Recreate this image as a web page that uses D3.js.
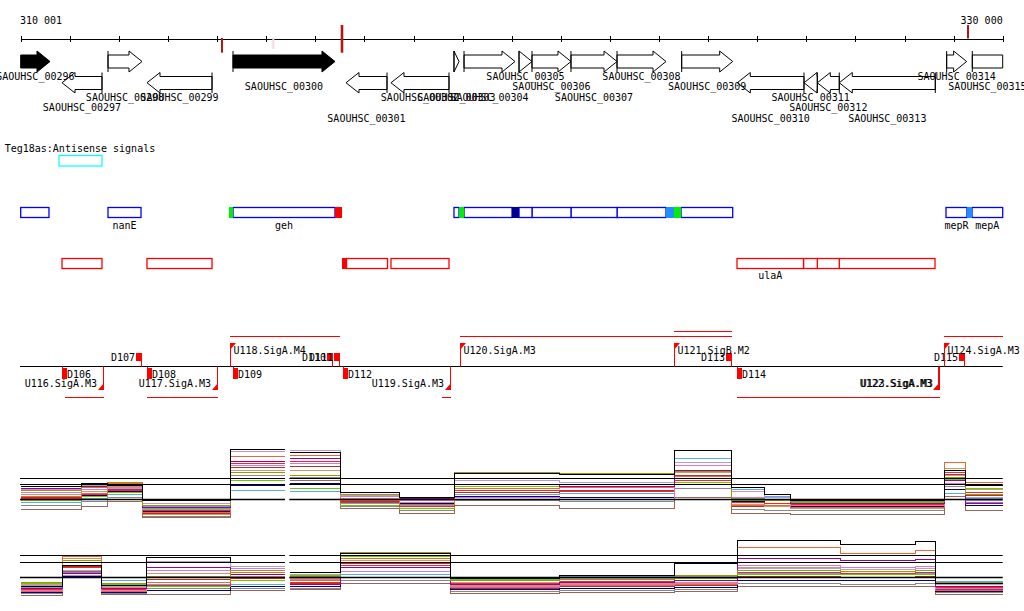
<!DOCTYPE html>
<html><head><meta charset="utf-8">
<script src="https://cdn.jsdelivr.net/npm/d3@7"></script>
<style>
body{margin:0;background:#fff;}
svg text{font-family:"DejaVu Sans Mono","Liberation Mono",monospace;font-size:10px;fill:#000;}
</style></head><body>
<svg id="c" width="1024" height="611"></svg>
<script>
// ================= DATA =================
const viewStart = 310001, viewEnd = 330732;
const rulerLabels = [310001, 330000];
const markerPos  = [314251, 315334, 316784, 330000];
const markerKind = ["below", "faint", "both", "above"];

const geneNames  = ["SAOUHSC_00296","SAOUHSC_00297","SAOUHSC_00298","SAOUHSC_00299","SAOUHSC_00300","SAOUHSC_00301","SAOUHSC_00302","SAOUHSC_00303","SAOUHSC_00304","SAOUHSC_00305","SAOUHSC_00306","SAOUHSC_00307","SAOUHSC_00308","SAOUHSC_00309","SAOUHSC_00310","SAOUHSC_00311","SAOUHSC_00312","SAOUHSC_00313","SAOUHSC_00314","SAOUHSC_00315"];
const geneStart  = [309800,310873,311844,312667,314483,316868,317818,319148,319360,320521,320795,321618,322590,323955,325129,326537,326818,327282,329549,330090];
const geneEnd    = [310620,311717,312562,314040,316636,317734,319043,319254,320436,320795,321618,322590,323624,325032,326537,326818,327282,329309,329971,331000];
const geneStrand = ["+","-","+","-","+","-","-","+","+","+","+","+","+","+","-","-","-","-","+","+"];
const geneSolid  = [true,false,false,false,true,false,false,false,false,false,false,false,false,false,false,false,false,false,false,false];
const geneLane   = [0,3,2,2,1,4,2,2,2,0,1,2,0,1,4,2,3,4,0,1];

const trackTitle = "Teg18as:Antisense signals";
const antisenseStart = [310810];
const antisenseEnd   = [311717];

const blueStart = [310001,311844,314398,314483,316636,319148,319254,319360,320373,320521,320795,321618,322590,323624,323793,323941,329535,329978,330084];
const blueEnd   = [310598,312541,314483,316636,316784,319254,319360,320373,320521,320795,321618,322590,323624,323793,323941,325032,329978,330084,330732];
const blueFill  = ["none","none","green","none","red","none","green","none","navy","none","none","none","none","sky","green","none","none","sky","none"];
const blueLabel = ["","nanE","","geh","","","","","","","","","","","","","mepR","","mepA"];

const redStart = [310873,312667,316784,316880,317818,325123,326527,326818,327282];
const redEnd   = [311717,314040,316880,317745,319043,326527,326818,327282,329303];
const redFill  = ["none","none","red","none","none","none","none","none","none"];
const redLabel = ["","","","","","ulaA","","",""];

const termNames  = ["D106","D107","D108","D109","D110","D111","D112","D113","D114","D115"];
const termPos    = [310873,312562,312667,314483,316594,316742,316805,325017,325123,329930];
const termStrand = ["-","+","-","-","+","+","-","+","-","+"];

const promNames     = ["U116.SigA.M3","U117.SigA.M3","U118.SigA.M4","U119.SigA.M3","U120.SigA.M3","U121.SigB.M2","U122.SigA.M3","U123.SigA.M3","U124.SigA.M3"];
const promPos       = [311760,314166,314420,319085,319275,323793,329381,329400,329493];
const promStrand    = ["-","-","+","-","+","+","-","-","+"];
const promRegionEnd = [310936,312667,316742,318895,325017,325017,325123,325123,330732];

// expression panel 1: bins and series values (signal units)
const p1Bins = [[310001,311274],[311274,311823],[311823,312562],[312562,314420],[314420,315581],[315686,316742],[316742,318008],[318008,319169],[319169,321386],[321386,323793],[323793,325017],[325017,325700],[325700,326242],[326242,329493],[329493,329957],[329957,330732]];
const p1Series = [
  [39,42,40,25,76,73,33,28,52,51,75,38,31,25,55,40],
  [35,38,42,20,53,50,31,26,53,52,54,25,25,24,48,31],
  [37,39,41,18,64,67,31,27,41,39,55,26,25,22,45,22],
  [33,36,39,16,60,62,29,25,28,26,60,28,26,20,42,25],
  [36,40,37,22,74,75,30,26,45,43,63,34,28,26,50,28],
  [29,32,43,13,69,70,25,21,37,38,49,20,20,18,63,43],
  [27,31,35,15,62,64,23,19,35,34,45,23,22,21,53,33],
  [25,29,33,17,45,37,20,17,39,41,43,27,25,23,46,37],
  [23,27,31,19,35,34,22,20,31,32,67,36,29,25,32,27],
  [26,30,34,14,40,42,25,22,29,28,47,24,22,19,36,20],
  [16,19,24,8,47,45,17,12,20,17,28,12,12,11,29,15],
  [31,34,38,11,55,55,27,23,41,39,53,21,19,17,57,36],
  [28,32,36,12,58,59,24,20,33,35,50,19,19,20,51,30],
  [20,24,28,9,50,48,19,15,25,24,37,16,15,15,39,23]
];
const p1Ref = [47, 41, 26];

const p2Bins = [[310001,310873],[310873,311717],[311717,312667],[312667,314420],[314420,315581],[315686,316742],[316742,319085],[319085,321386],[321386,323793],[323793,325123],[325123,327300],[327300,328900],[328900,329303],[329303,330732]];
const p2Series = [
  [14,35,15,43,38,28,47,22,25,37,60,56,59,17],
  [18,40,17,24,30,24,48,20,21,25,30,29,30,18],
  [12,27,12,33,26,16,33,16,18,20,42,40,41,14],
  [10,25,10,30,32,22,29,14,16,17,35,33,34,12],
  [16,30,14,39,34,26,38,18,22,24,32,31,32,16],
  [9,44,9,18,28,20,42,13,15,16,53,47,50,10],
  [11,33,11,15,22,18,35,17,19,20,28,27,28,13],
  [17,38,16,14,20,25,44,21,22,22,26,26,26,17],
  [13,23,20,16,16,23,26,22,24,25,27,26,27,19],
  [8,24,8,10,14,14,23,11,12,13,20,20,20,9],
  [5,29,6,6,10,11,17,7,8,9,14,14,14,6],
  [15,42,13,27,24,21,40,15,17,18,33,31,32,14],
  [10,34,10,21,26,17,37,12,14,15,24,23,24,11],
  [7,28,7,12,12,12,20,9,10,11,17,16,17,8]
];
const p2Ref = [45, 38, 23];
const refSpans = [[310001,315581],[315686,330732]];

const seriesColors = ["#000000","#999900","#990099","#dd77cc","#bb99cc","#ee6633","#ff2222","#66cc00","#55aaee","#000080","#996655","#cc9966","#aa3333","#888888"];

// ================= DRAW =================
const svg = d3.select("#c");
const x = d3.scaleLinear().domain([viewStart, viewEnd]).range([20.7, 1002.7]);
const fillColor = {none:"#fff", green:"#00ee00", red:"#ff0000", navy:"#000090", sky:"#1e90ff"};
const px = v => x(Math.max(viewStart, Math.min(viewEnd, v)));

// ruler
const tickVals = d3.range(21).map(i => viewStart + i * (viewEnd - viewStart) / 20);
const ruler = svg.append("g").attr("transform", "translate(0,38.5)");
ruler.call(d3.axisBottom(x).tickValues(tickVals).tickSize(3).tickSizeOuter(0).tickFormat(""));
ruler.append("g").call(d3.axisTop(x).tickValues(tickVals).tickSize(3).tickSizeOuter(0).tickFormat(""));
ruler.selectAll("path,line").attr("stroke", "#000").attr("shape-rendering", "crispEdges");
const fmt = d3.formatLocale({thousands: " ", grouping: [3], decimal: ".", currency: ["", ""]}).format(",");
rulerLabels.forEach((v, i) => {
  const first = i === 0;
  svg.append("text").attr("x", first ? x.range()[0] - 0.7 : x.range()[1])
    .attr("y", 24).attr("text-anchor", first ? "start" : "end").text(fmt(v));
});
markerPos.forEach((p, i) => {
  const k = markerKind[i];
  const y0 = (k === "above" || k === "both") ? 25 : 38;
  const y1 = (k === "below" || k === "both") ? 52.7 : (k === "faint" ? 49 : 38.5);
  svg.append("line").attr("x1", x(p)).attr("x2", x(p)).attr("y1", y0).attr("y2", y1)
    .attr("stroke", k === "faint" ? "#f2dcdc" : "#b01818").attr("stroke-width", k === "both" ? 2.6 : 2);
});

// genes
const head = 13;
const gG = svg.append("g");
geneNames.forEach((name, i) => {
  const fwd = geneStrand[i] === "+";
  const ht = fwd ? 51 : 72.5, bt = fwd ? 55 : 76.5, bb = fwd ? 68 : 89.5, hb = fwd ? 72 : 93, mid = (ht + hb) / 2;
  const a = px(geneStart[i]), b = px(geneEnd[i]);
  const clipS = geneStart[i] < viewStart, clipE = geneEnd[i] > viewEnd;
  const fill = geneSolid[i] ? "#000" : "#fff";
  let d;
  if (fwd) {
    if (clipE) d = `M${a},${bt}H${b}V${bb}H${a}Z`;
    else { const hx = Math.max(a, b - head); d = `M${a},${bt}H${hx}V${ht}L${b},${mid}L${hx},${hb}V${bb}H${a}Z`; }
    if (!clipS) gG.append("line").attr("x1", a).attr("x2", a).attr("y1", ht).attr("y2", hb).attr("stroke", "#000");
  } else {
    if (clipS) d = `M${b},${bt}H${a}V${bb}H${b}Z`;
    else { const hx = Math.min(b, a + head); d = `M${b},${bt}H${hx}V${ht}L${a},${mid}L${hx},${hb}V${bb}H${b}Z`; }
    if (!clipE) gG.append("line").attr("x1", b).attr("x2", b).attr("y1", ht).attr("y2", hb).attr("stroke", "#000");
  }
  gG.insert("path", ":first-child").attr("d", d).attr("fill", fill).attr("stroke", "#000").attr("stroke-width", 1);
  gG.append("text").attr("x", (a + b) / 2).attr("y", 80 + geneLane[i] * 10.4)
    .attr("text-anchor", "middle").text(name);
});

// antisense track
svg.append("text").attr("x", 4.7).attr("y", 152).text(trackTitle);
antisenseStart.forEach((s, i) => {
  svg.append("rect").attr("x", px(s)).attr("y", 155.5).attr("width", px(antisenseEnd[i]) - px(s)).attr("height", 10.5)
    .attr("fill", "none").attr("stroke", "#00ffff").attr("stroke-width", 1.2);
});

function boxRow(starts, ends, fills, labels, y, h, stroke, labelY) {
  const g = svg.append("g");
  starts.forEach((s, i) => {
    const a = px(s), b = px(ends[i]);
    if (fills[i] !== "none") {
      g.append("rect").attr("x", a).attr("y", y - 0.5).attr("width", b - a).attr("height", h + 1).attr("fill", fillColor[fills[i]]);
    } else {
      g.insert("rect", ":first-child").attr("x", a).attr("y", y).attr("width", b - a).attr("height", h)
        .attr("fill", "#fff").attr("stroke", stroke).attr("stroke-width", 1.3);
    }
    if (labels[i]) g.append("text").attr("x", (a + b) / 2).attr("y", labelY).attr("text-anchor", "middle").text(labels[i]);
  });
}
boxRow(blueStart, blueEnd, blueFill, blueLabel, 207.5, 10, "#0000ff", 229);
boxRow(redStart, redEnd, redFill, redLabel, 258.5, 10, "#ff0000", 279);

// signal track
const base = 366.5;
const sig = svg.append("g");
sig.append("line").attr("x1", x.range()[0] - 0.7).attr("x2", x.range()[1]).attr("y1", base).attr("y2", base)
  .attr("stroke", "#000").attr("stroke-width", 1.2);
const red = "#ff0000";
termNames.forEach((n, i) => {
  const p = Math.round(x(termPos[i]));
  if (termStrand[i] === "+") {
    sig.append("line").attr("x1", p - 0.5).attr("x2", p - 0.5).attr("y1", 353).attr("y2", base).attr("stroke", red);
    sig.append("rect").attr("x", p - 6).attr("y", 353).attr("width", 6).attr("height", 8).attr("fill", red);
    sig.append("text").attr("x", p - 7).attr("y", 361).attr("text-anchor", "end").text(n);
  } else {
    sig.append("line").attr("x1", p + 0.5).attr("x2", p + 0.5).attr("y1", base).attr("y2", 379).attr("stroke", red);
    sig.append("rect").attr("x", p).attr("y", 368).attr("width", 5).attr("height", 11).attr("fill", red);
    sig.append("text").attr("x", p + 5).attr("y", 378).text(n);
  }
});
// promoter lanes (greedy for overlapping regions of same strand)
const placed = [];
promNames.forEach((n, i) => {
  const lo = Math.min(promPos[i], promRegionEnd[i]), hi = Math.max(promPos[i], promRegionEnd[i]);
  let lane = 0;
  while (placed.some(q => q.strand === promStrand[i] && q.lane === lane && q.lo !== lo && q.lo < hi && lo < q.hi)) lane++;
  placed.push({lo, hi, lane, strand: promStrand[i]});
  const p = Math.round(x(promPos[i]));
  const rl = Math.round(x(lo)), rh = Math.round(x(hi));
  if (promStrand[i] === "+") {
    const ly = 336.5 - lane * 5;
    sig.append("line").attr("x1", rl).attr("x2", rh).attr("y1", ly).attr("y2", ly).attr("stroke", red);
    sig.append("line").attr("x1", p + 0.5).attr("x2", p + 0.5).attr("y1", 343).attr("y2", base).attr("stroke", red);
    sig.append("path").attr("d", `M${p},343H${p + 6}L${p},350Z`).attr("fill", red);
    sig.append("text").attr("x", p + 3.5).attr("y", 354).text(n);
  } else {
    const ly = 397.5 + lane * 5;
    sig.append("line").attr("x1", rl).attr("x2", rh).attr("y1", ly).attr("y2", ly).attr("stroke", red);
    sig.append("line").attr("x1", p - 0.5).attr("x2", p - 0.5).attr("y1", base).attr("y2", 389.5).attr("stroke", red);
    sig.append("path").attr("d", `M${p},390H${p - 6}L${p},383Z`).attr("fill", red);
    sig.append("text").attr("x", p - 7).attr("y", 387).attr("text-anchor", "end").text(n);
  }
});

// expression panels
function panel(bins, series, refs, y) {
  const g = svg.append("g");
  const line = d3.line().defined(d => d !== null).x(d => x(d[0])).y(d => Math.round(y(d[1])) + 0.5);
  for (let s = series.length - 1; s >= 0; s--) {
    const pts = [];
    bins.forEach((b, i) => {
      if (i > 0 && b[0] !== bins[i - 1][1]) pts.push(null);
      pts.push([b[0], series[s][i]], [b[1], series[s][i]]);
    });
    g.append("path").attr("d", line(pts)).attr("fill", "none").attr("stroke", seriesColors[s])
      .attr("stroke-width", 1).attr("shape-rendering", "crispEdges");
  }
  refs.forEach((r, k) => {
    refSpans.forEach(sp => {
      const yy = Math.round(y(r)) + 0.5;
      g.append("line").attr("x1", x(sp[0]) - 0.7).attr("x2", x(sp[1])).attr("y1", yy).attr("y2", yy)
        .attr("stroke", "#000").attr("stroke-width", k === refs.length - 1 ? 1.6 : 1.2);
    });
  });
}
panel(p1Bins, p1Series, p1Ref, d3.scaleLinear().domain([0, 85]).range([525, 440]));
panel(p2Bins, p2Series, p2Ref, d3.scaleLinear().domain([0, 65]).range([600, 535]));
</script></body></html>
